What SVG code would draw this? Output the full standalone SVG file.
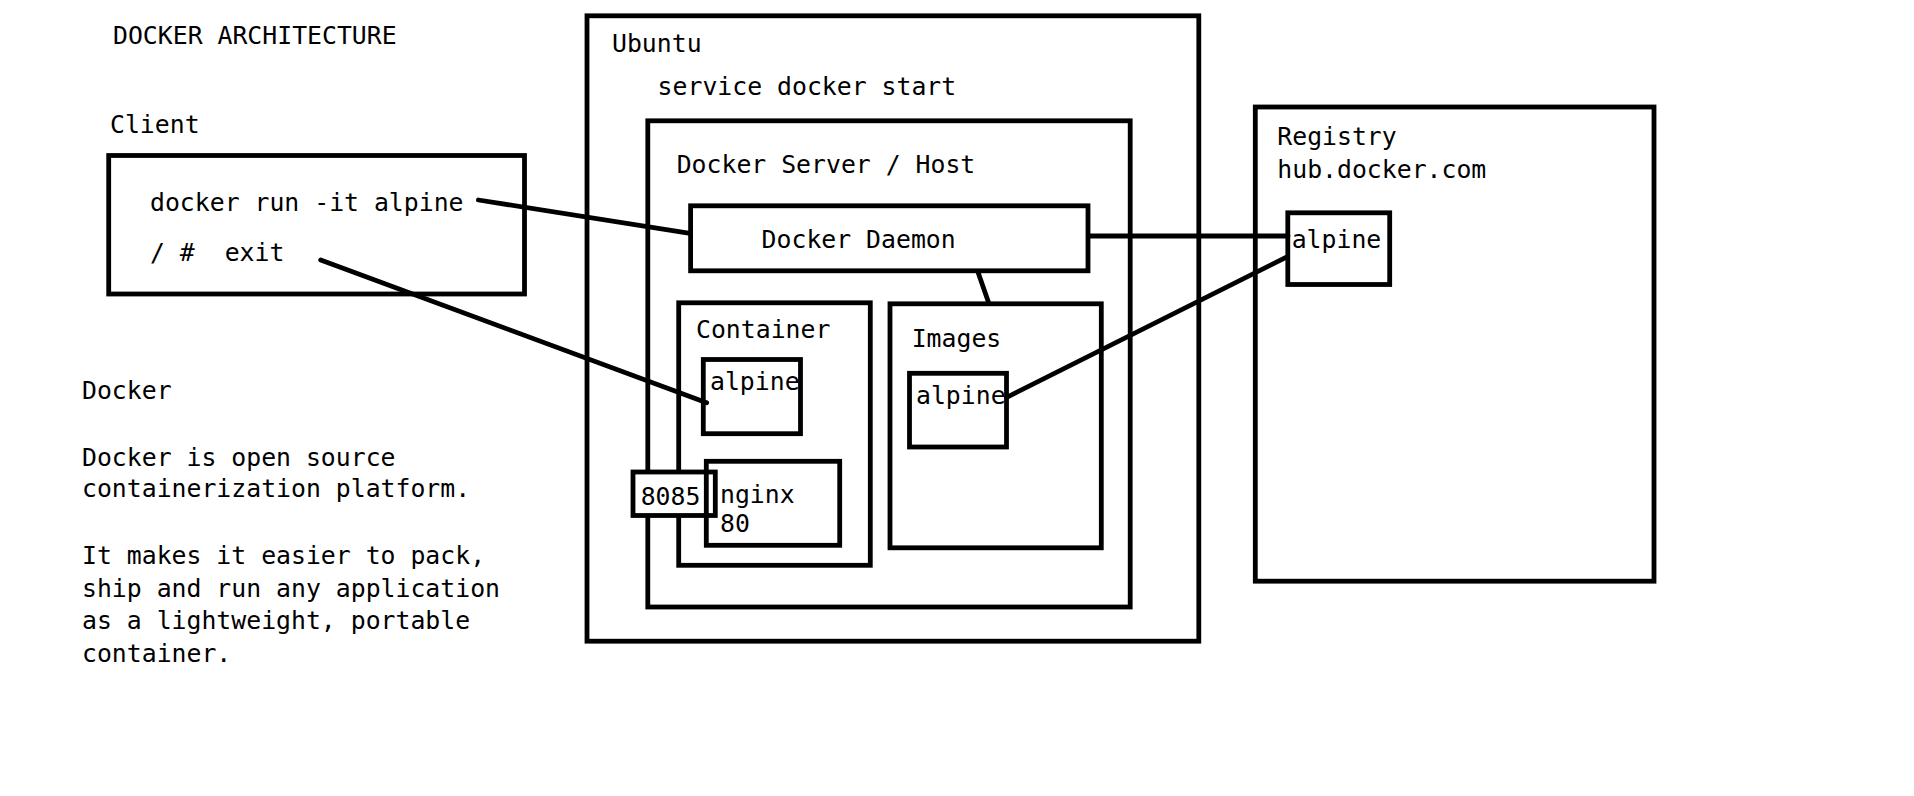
<svg xmlns="http://www.w3.org/2000/svg" width="1914" height="796" viewBox="0 0 1914 796">
<style>
text{font-family:"DejaVu Sans Mono","Liberation Mono",monospace;font-size:24.8px;fill:#000;white-space:pre}
.box{fill:none;stroke:#000;stroke-width:4.8}
.wbox{fill:#fff;stroke:#000;stroke-width:4.8}
.ln{stroke:#000;stroke-width:4.8;fill:none;stroke-linecap:round}
</style>
<rect width="1914" height="796" fill="#fff"/>
<g id="notes">
<text x="113" y="44">DOCKER ARCHITECTURE</text>
<text x="82" y="399">Docker</text>
<text x="82" y="466">Docker is open source</text>
<text x="82" y="497">containerization platform.</text>
<text x="82" y="564">It makes it easier to pack,</text>
<text x="82" y="597">ship and run any application</text>
<text x="82" y="629">as a lightweight, portable</text>
<text x="82" y="662">container.</text>
</g>
<g id="client">
<text x="110" y="133">Client</text>
<rect class="box" x="108.7" y="155.5" width="415.8" height="138.5"/>
<text x="150" y="210.7">docker run -it alpine</text>
<text x="150" y="260.7" xml:space="preserve">/ #  exit</text>
</g>
<g id="ubuntu">
<rect class="box" x="587" y="15.8" width="611.8" height="625.4"/>
<text x="612" y="51.7">Ubuntu</text>
<text x="657.6" y="95">service docker start</text>
</g>
<g id="docker-server">
<rect class="box" x="647.8" y="120.8" width="482.4" height="486.2"/>
<text x="676.7" y="172.7">Docker Server / Host</text>
</g>
<g id="docker-daemon">
<rect class="box" x="690.6" y="205.8" width="397.4" height="65"/>
<text x="761.6" y="247.7">Docker Daemon</text>
</g>
<g id="container">
<rect class="box" x="678.7" y="302.8" width="191.6" height="262.5"/>
<text x="696" y="338.3">Container</text>
</g>
<g id="container-alpine">
<rect class="box" x="703.3" y="359.5" width="97.2" height="74.2"/>
<text x="710" y="390">alpine</text>
</g>
<g id="port-8085">
<rect class="wbox" x="633" y="472" width="82.3" height="43.5"/>
<text x="640.7" y="505">8085</text>
</g>
<g id="nginx">
<rect class="box" x="706.3" y="461.3" width="133.4" height="84"/>
<text x="720" y="503.3">nginx</text>
<text x="720" y="531.7">80</text>
</g>
<g id="images">
<rect class="box" x="890" y="303.8" width="211.3" height="244"/>
<text x="911.7" y="347.3">Images</text>
</g>
<g id="images-alpine">
<rect class="box" x="909.5" y="373.3" width="97" height="73.7"/>
<text x="916" y="404">alpine</text>
</g>
<g id="registry">
<rect class="box" x="1255.3" y="107" width="398.7" height="474.2"/>
<text x="1277.3" y="145">Registry</text>
<text x="1277.3" y="178.3">hub.docker.com</text>
</g>
<g id="registry-alpine">
<rect class="box" x="1287.8" y="212.8" width="101.9" height="71.7"/>
<text x="1291.7" y="248.3">alpine</text>
</g>
<g id="connectors">
<line class="ln" x1="478.4" y1="200" x2="690" y2="233.3"/>
<line class="ln" x1="320.7" y1="260" x2="706.7" y2="402.7"/>
<line class="ln" x1="1090" y1="236" x2="1288" y2="236"/>
<line class="ln" x1="978.3" y1="273" x2="988.3" y2="301.7"/>
<line class="ln" x1="1006.7" y1="397.3" x2="1286" y2="257.3"/>
</g>
</svg>
